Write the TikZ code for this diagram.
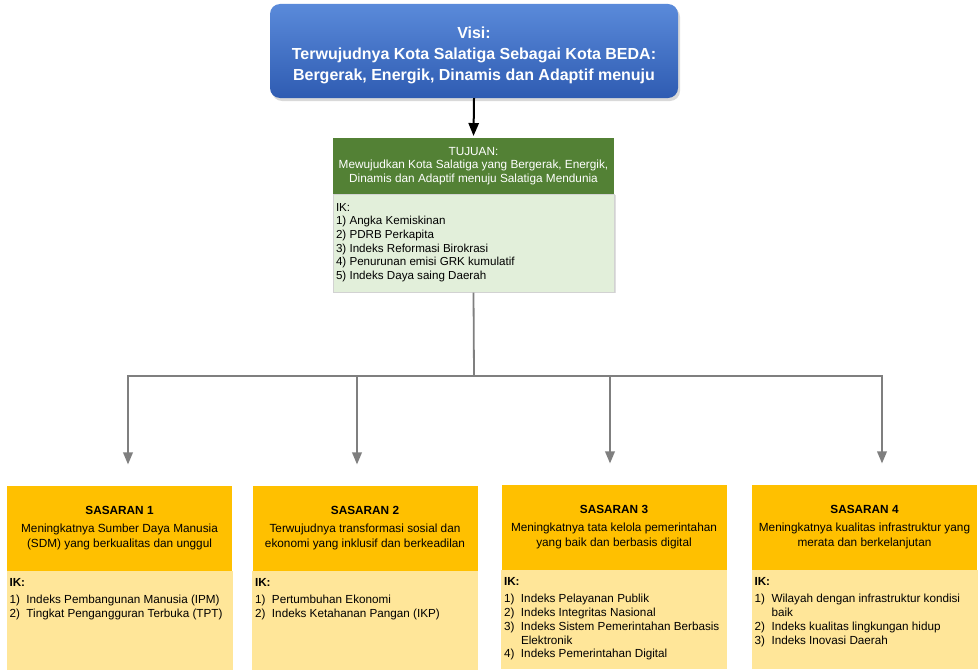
\documentclass[tikz,border=0pt]{standalone}
\usepackage{fontspec}
\setmainfont{Liberation Sans}
\usetikzlibrary{arrows, positioning, shadows}

\definecolor{visitop}{HTML}{5A8ADA}
\definecolor{visibot}{HTML}{2F5CB2}
\definecolor{tujuangreen}{HTML}{538135}
\definecolor{tujuanlight}{HTML}{E2EFDA}
\definecolor{sashead}{HTML}{FFC000}
\definecolor{sasbody}{HTML}{FFE699}
\definecolor{linegray}{HTML}{7F7F7F}

\newcommand{\nr}[1]{\makebox[17pt][l]{#1}}

\begin{document}
\begin{tikzpicture}[
        x=1pt, y=-1pt,
        visi/.style={rectangle, rounded corners=10pt, minimum width=408pt, minimum height=94pt,
            top color=visitop, bottom color=visibot, text=white, align=center,
            font=\fontsize{16}{21}\selectfont\bfseries,
            drop shadow={opacity=0.3, shadow xshift=2pt, shadow yshift=-3pt}},
        thead/.style={rectangle, fill=tujuangreen, text=white, minimum width=281pt, minimum height=56pt,
            align=center, inner sep=0pt, font=\fontsize{11.8}{13.6}\selectfont},
        tbody/.style={rectangle, fill=tujuanlight, draw=gray!35, minimum width=281pt, minimum height=98pt,
            inner sep=0pt, drop shadow={opacity=0.25, shadow xshift=2pt, shadow yshift=-1pt}},
        shead/.style={rectangle, fill=sashead, minimum width=225pt, minimum height=85pt,
            align=center, inner sep=0pt, font=\fontsize{11.8}{14.8}\selectfont},
        sbody/.style={rectangle, fill=sasbody, minimum width=226pt, minimum height=99pt, inner sep=0pt},
        iklist/.style={anchor=north west, align=left, inner sep=0pt, font=\fontsize{11.7}{13.8}\selectfont},
        conn/.style={draw=linegray, line width=1.8pt}
    ]
        \useasboundingbox (0,0) rectangle (979,669);

        % Visi
        \node[visi] (visi) at (474,51) {\rule{0pt}{20pt}Visi:\\ Terwujudnya Kota Salatiga Sebagai Kota BEDA:\\ Bergerak, Energik, Dinamis dan Adaptif menuju};

        % Tujuan
        \node[thead] (thead) at (473.5,166) {TUJUAN:\\ Mewujudkan Kota Salatiga yang Bergerak, Energik,\\ Dinamis dan Adaptif menuju Salatiga Mendunia};
        \node[tbody, below=0pt of thead] (tbody) {};
        \node[iklist, font=\fontsize{11.6}{13.6}\selectfont] (tlist) at ([xshift=3pt, yshift=-9pt]tbody.north west)
            {IK:\\ 1) Angka Kemiskinan\\ 2) PDRB Perkapita\\ 3) Indeks Reformasi Birokrasi\\
             4) Penurunan emisi GRK kumulatif\\ 5) Indeks Daya saing Daerah};

        % Sasaran
        \node[shead] (head1) at (119.5,528) {\textbf{SASARAN 1}\\[3pt] Meningkatnya Sumber Daya Manusia\\ (SDM) yang berkualitas dan unggul};
        \node[shead] (head2) at (365,528) {\textbf{SASARAN 2}\\[3pt] Terwujudnya transformasi sosial dan\\ ekonomi yang inklusif dan berkeadilan};
        \node[shead] (head3) at (614,527) {\textbf{SASARAN 3}\\[3pt] Meningkatnya tata kelola pemerintahan\\ yang baik dan berbasis digital};
        \node[shead] (head4) at (864.5,527) {\textbf{SASARAN 4}\\[3pt] Meningkatnya kualitas infrastruktur yang\\ merata dan berkelanjutan};

        \foreach \i in {1,...,4}
            \node[sbody, below=0pt of head\i] (body\i) {};

        \node[iklist] (list1) at ([xshift=3pt, yshift=-8pt]body1.north west)
            {\textbf{IK:}\\[3pt] \nr{1)}Indeks Pembangunan Manusia (IPM)\\ \nr{2)}Tingkat Pengangguran Terbuka (TPT)};
        \node[iklist] (list2) at ([xshift=3pt, yshift=-8pt]body2.north west)
            {\textbf{IK:}\\[3pt] \nr{1)}Pertumbuhan Ekonomi\\ \nr{2)}Indeks Ketahanan Pangan (IKP)};
        \node[iklist] (list3) at ([xshift=3pt, yshift=-8pt]body3.north west)
            {\textbf{IK:}\\[3pt] \nr{1)}Indeks Pelayanan Publik\\ \nr{2)}Indeks Integritas Nasional\\
             \nr{3)}Indeks Sistem Pemerintahan Berbasis\\ \nr{}Elektronik\\ \nr{4)}Indeks Pemerintahan Digital};
        \node[iklist] (list4) at ([xshift=3pt, yshift=-8pt]body4.north west)
            {\textbf{IK:}\\[3pt] \nr{1)}Wilayah dengan infrastruktur kondisi\\ \nr{}baik\\
             \nr{2)}Indeks kualitas lingkungan hidup\\ \nr{3)}Indeks Inovasi Daerah};

        % Panah
        \draw[line width=2pt, -triangle 45, shorten >=2pt] (visi.south) -- (thead.north);

        \coordinate (bus) at (474,376);
        \draw[conn] (tbody.south) -- (bus);
        \foreach \x [count=\i] in {128,357,610,882}
            \coordinate (drop\i) at (\x,376);
        \draw[conn, line cap=rect] (drop1) -- (drop4);
        \foreach \i in {1,...,4}
            \draw[conn, -triangle 45, shorten >=21pt] (drop\i) -- (drop\i |- head\i.north);
    \end{tikzpicture}
\end{document}
